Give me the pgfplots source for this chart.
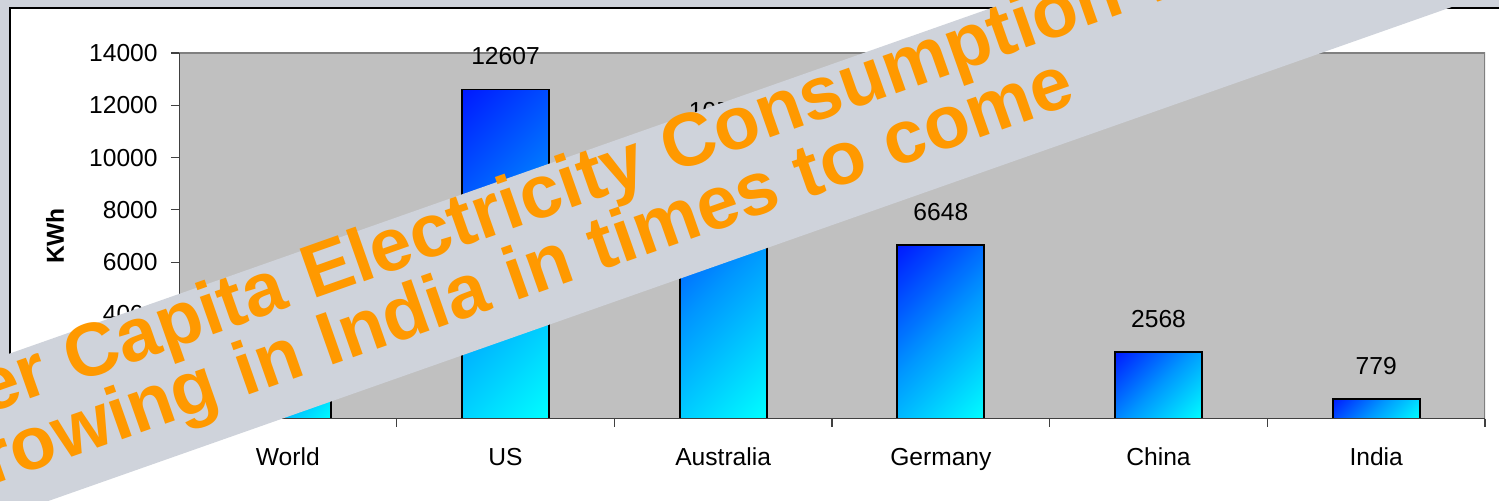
\documentclass[border=0pt]{standalone}
\usepackage{pgfplots}
\pgfplotsset{compat=1.18}
\usepackage{fontspec}
\setmainfont{Liberation Sans}

\definecolor{slidegray}{RGB}{207,211,219}
\definecolor{plotgray}{RGB}{192,192,192}
\definecolor{framegray}{RGB}{128,128,128}
\definecolor{bannerorange}{RGB}{255,153,0}
\definecolor{bartop}{RGB}{0,25,255}
\definecolor{barmid}{RGB}{0,150,255}
\definecolor{barbot}{RGB}{0,255,255}

% corner-to-corner gradient for the bars (used with shading angle=45)
\pgfdeclareverticalshading{barshade}{100bp}{%
  color(0bp)=(barbot); color(14.6bp)=(barbot);
  color(50bp)=(barmid);
  color(85.4bp)=(bartop); color(100bp)=(bartop)}

\newcommand\bannerstyle{\bfseries\fontsize{37.5}{41}\selectfont\spaceskip=0.30em\relax}

\begin{document}
\begin{tikzpicture}[x=0.5pt,y=0.5pt]
\useasboundingbox (0,0) rectangle (1499,501);
\clip (0,0) rectangle (1499,501);
% slide background and chart frame
\fill[slidegray] (0,0) rectangle (1499,501);
\fill[white] (10,-20) rectangle (1530,493);
\draw[black, line width=1pt] (10,-20) -- (10,493) -- (1530,493);

\begin{axis}[
  at={(89.5pt,41pt)}, anchor=south west,
  scale only axis, width=653pt, height=183pt,
  ybar, bar width=43.5pt,
  every axis plot/.append style={bar shift=0pt},
  xmin=-0.5, xmax=5.5, ymin=0, ymax=14000,
  ytick={0,2000,...,14000},
  scaled y ticks=false,
  xtick={0,...,5},
  xticklabels={World,US,Australia,Germany,China,India},
  minor xtick={-0.5,0.5,...,5.5},
  major x tick style={draw=none},
  tick align=outside, tick pos=left,
  major tick length=4pt, minor tick length=4pt,
  tick style={black!75, line width=0.6pt},
  axis line style={draw=none},
  axis background/.style={fill=plotgray},
  /pgf/number format/1000 sep={},
  /pgf/number format/assume math mode=true,
  yticklabel style={font=\fontsize{12.3}{14}\selectfont, inner sep=0pt, anchor=east, xshift=-6.5pt},
  xticklabel style={font=\fontsize{12.3}{14}\selectfont, inner sep=0pt, anchor=base, yshift=-19.5pt},
  ylabel={\bfseries KWh},
  ylabel style={font=\fontsize{12.3}{14}\selectfont, at={(axis description cs:-0.0949,0.5)}, anchor=center, inner sep=0pt},
  nodes near coords,
  every node near coord/.append style={font=\fontsize{12.3}{14}\selectfont, inner sep=0pt, anchor=base, yshift=12.25pt},
  bar style/.style={draw=black, line width=0.9pt,
    shade, shading=barshade, shading angle=45},
]
% one plot per bar so each bar carries its own gradient
\addplot[bar style] coordinates {(0,2596)};
\addplot[bar style] coordinates {(1,12607)};
\addplot[bar style] coordinates {(2,10500)};
\addplot[bar style] coordinates {(3,6648)};
\addplot[bar style] coordinates {(4,2568)};
\addplot[bar style] coordinates {(5,779)};
\draw[framegray, line width=1pt] (rel axis cs:0,1) -- (rel axis cs:1,1) -- (rel axis cs:1,0);
\draw[black!75, line width=0.8pt] (rel axis cs:0,1) -- (rel axis cs:0,0) -- (rel axis cs:1,0);
\end{axis}

% slanted banner across the chart
\fill[slidegray] (-50,126.4) -- (1550,689.6) -- (1550,528.6) -- (-50,-34.6) -- cycle;
\node[rotate=19.4, anchor=base west, inner sep=0pt, text=bannerorange,
  font=\bannerstyle] at (-61,70)
  {Per Capita Electricity Consumption will};
\node[rotate=19.4, anchor=base east, inner sep=0pt, text=bannerorange,
  font=\bannerstyle] at (1078,398)
  {growing in India in times to come};
\end{tikzpicture}
\end{document}
